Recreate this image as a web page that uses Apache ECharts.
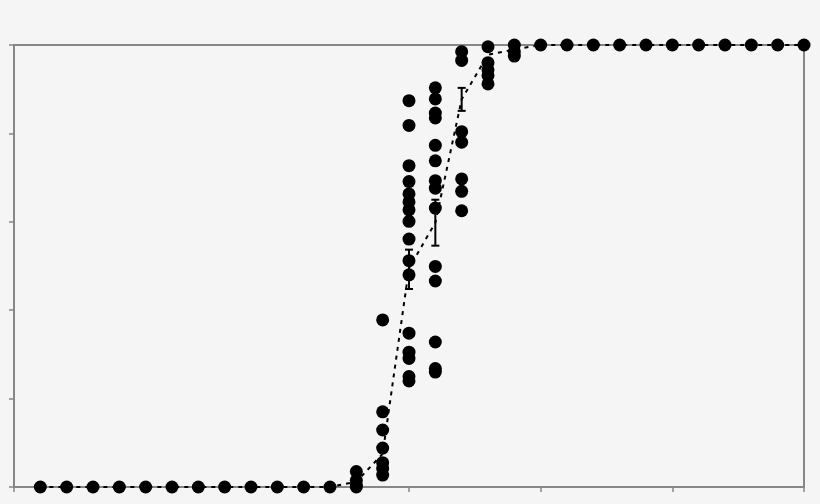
<!DOCTYPE html>
<html><head><meta charset="utf-8">
<script src="https://cdn.jsdelivr.net/npm/echarts@6/dist/echarts.min.js"></script>
<style>html,body{margin:0;padding:0;background:#f5f5f5;} #c{width:820px;height:504px;}</style>
</head><body><div id="c"></div>
<script>
const positions = [1,2,3,4,5,6,7,8,9,10,11,12,13,14,15,16,17,18,19,20,21,22,23,24,25,26,27,28,29,30];
const meanValues = [0,0,0,0,0,0,0,0,0,0,0,0,0.012,0.075,0.495,0.598,0.877,0.978,0.99,1,1,1,1,1,1,1,1,1,1,1];
const errPositions = [15,16,17];
const errLow = [0.448,0.546,0.851];
const errHigh = [0.537,0.65,0.903];
const obsLow = [0];
const obs13 = [0,0.005,0.015,0.035];
const obs14 = [0.378,0.17,0.129,0.088,0.055,0.042,0.027];
const obs15 = [0.874,0.818,0.727,0.691,0.663,0.645,0.627,0.601,0.561,0.512,0.48,0.348,0.305,0.291,0.25,0.24];
const obs16 = [0.903,0.878,0.846,0.835,0.773,0.738,0.693,0.676,0.631,0.499,0.466,0.328,0.268,0.26];
const obs17 = [0.985,0.965,0.804,0.78,0.697,0.669,0.625];
const obs18 = [0.996,0.96,0.944,0.931,0.912];
const obs19 = [1,0.985,0.975];
const obsHigh = [1];
const observations = positions.map(p => p <= 12 ? obsLow : p === 13 ? obs13 : p === 14 ? obs14 : p === 15 ? obs15 : p === 16 ? obs16 : p === 17 ? obs17 : p === 18 ? obs18 : p === 19 ? obs19 : obsHigh);

const scatterData = [];
positions.forEach((p, i) => observations[i].forEach(v => scatterData.push([p, v])));
const lineData = positions.map((p, i) => [p, meanValues[i]]);
const errData = errPositions.map((p, i) => [p, errLow[i], errHigh[i]]);

const axisColor = '#878787';
const chart = echarts.init(document.getElementById('c'));
chart.setOption({
  animation: false,
  backgroundColor: '#f5f5f5',
  grid: { left: 14, right: 16, top: 45, bottom: 17, show: true, borderColor: axisColor, borderWidth: 2, backgroundColor: 'transparent' },
  xAxis: {
    type: 'value', min: 0, max: 30, interval: 5,
    axisLine: { show: true, onZero: false, lineStyle: { color: axisColor, width: 2 } },
    axisTick: { show: true, length: 5, lineStyle: { color: axisColor, width: 1.5 } },
    axisLabel: { show: false }, splitLine: { show: false }
  },
  yAxis: {
    type: 'value', min: 0, max: 1, interval: 0.2,
    axisLine: { show: true, onZero: false, lineStyle: { color: axisColor, width: 2 } },
    axisTick: { show: true, length: 5, lineStyle: { color: axisColor, width: 1.5 } },
    axisLabel: { show: false }, splitLine: { show: false }
  },
  series: [
    { type: 'line', data: lineData, showSymbol: false, symbol: 'none', z: 2,
      lineStyle: { color: '#000', width: 2, type: [4, 5] } },
    { type: 'scatter', data: scatterData, symbolSize: 13, z: 3,
      itemStyle: { color: '#000', opacity: 1 } },
    { type: 'custom', data: errData, z: 4,
      renderItem: function (params, api) {
        const lo = api.coord([api.value(0), api.value(1)]);
        const hi = api.coord([api.value(0), api.value(2)]);
        const hw = 4;
        const st = { stroke: '#000', lineWidth: 2 };
        return { type: 'group', children: [
          { type: 'line', shape: { x1: lo[0], y1: lo[1], x2: hi[0], y2: hi[1] }, style: st },
          { type: 'line', shape: { x1: lo[0] - hw, y1: lo[1], x2: lo[0] + hw, y2: lo[1] }, style: st },
          { type: 'line', shape: { x1: hi[0] - hw, y1: hi[1], x2: hi[0] + hw, y2: hi[1] }, style: st }
        ]};
      } }
  ]
});
</script></body></html>
